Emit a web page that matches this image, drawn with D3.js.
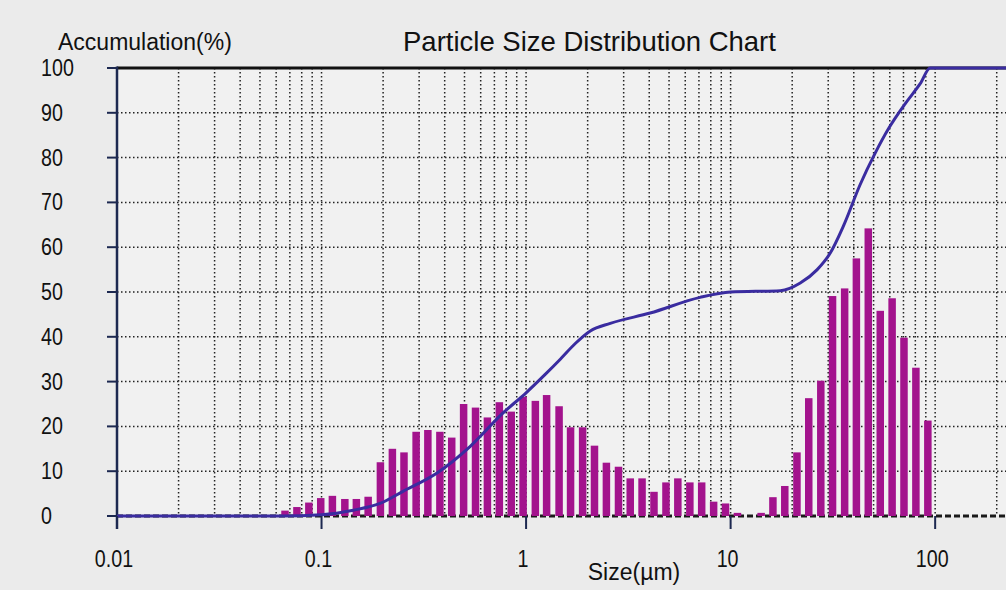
<!DOCTYPE html>
<html>
<head>
<meta charset="utf-8">
<script src="https://cdn.jsdelivr.net/npm/d3@7"></script>
<style>
  body { margin: 0; background: #ebebeb; }
  svg { display: block; }
</style>
</head>
<body>
<div id="chart"></div>
<script>
// bin centres (um) and frequency bars
var sizes = [0.0663, 0.0758, 0.0867, 0.0991, 0.113, 0.130, 0.148, 0.169, 0.194, 0.222,
  0.253, 0.290, 0.331, 0.379, 0.433, 0.495, 0.566, 0.647, 0.740, 0.846,
  0.967, 1.11, 1.26, 1.45, 1.65, 1.89, 2.16, 2.47, 2.83, 3.23,
  3.69, 4.22, 4.83, 5.52, 6.32, 7.22, 8.26, 9.44, 10.8, 12.3,
  14.1, 16.1, 18.4, 21.1, 24.1, 27.6, 31.5, 36.1, 41.2, 47.1,
  53.9, 61.6, 70.4, 80.5, 92.1];
var freq = [1.2, 2, 3, 4, 4.5, 3.8, 3.8, 4.3, 12, 15,
  14.2, 18.8, 19.2, 18.8, 17.5, 25, 24.2, 22, 25.4, 23.3,
  26.6, 25.7, 27, 24.5, 19.8, 19.8, 15.7, 11.9, 11, 8.4,
  8.4, 5.4, 7.5, 8.4, 7.5, 7.5, 3.2, 2.8, 0.7, 0,
  0.7, 4.2, 6.7, 14.2, 26.3, 30.2, 49.1, 50.8, 57.5, 64.2,
  45.8, 48.6, 39.8, 33.1, 21.3];

// accumulation curve
var cumSizes = [0.01, 0.02, 0.063, 0.1, 0.143, 0.193, 0.25, 0.367, 0.532, 0.772,
  1.0, 1.24, 1.47, 1.74, 2.06, 2.58, 4.04, 7.09, 10, 17.5,
  21.9, 26.5, 30.7, 35.5, 43.0, 50.9, 59.6, 71.3, 84.5, 94.6, 222];
var cumValues = [0, 0, 0, 0.3, 1.3, 2.8, 5.5, 9.6, 15.5, 23,
  27.5, 31.6, 35, 38.5, 41.3, 43, 45.3, 48.8, 50, 50.3,
  52, 55, 58.7, 64.6, 74, 81, 86.7, 92, 96.5, 100, 100];

var yTicks = [0, 10, 20, 30, 40, 50, 60, 70, 80, 90, 100];
var xTicks = [0.01, 0.1, 1, 10, 100];
var xTickLabels = ["0.01", "0.1", "1", "10", "100"];

var width = 1006, height = 590;
var plotLeft = 117, plotTop = 68, plotBottom = 516;

var svg = d3.select("#chart").append("svg")
    .attr("width", width)
    .attr("height", height);

var x = d3.scaleLog().domain([0.01, 222]).range([plotLeft, width]);
var y = d3.scaleLinear().domain([0, 100]).range([plotBottom, plotTop]);

var font = "'Liberation Sans', Arial, sans-serif";
var squeeze = 0.82; // tick labels in the original are narrow

// plot background
svg.append("rect")
    .attr("x", plotLeft).attr("y", plotTop)
    .attr("width", width - plotLeft).attr("height", plotBottom - plotTop)
    .attr("fill", "#f1f1f1");

// dotted grid
svg.append("g").selectAll("line")
  .data(x.ticks().filter(function(d) { return d > 0.01; }))
  .enter().append("line")
    .attr("x1", function(d) { return x(d); })
    .attr("x2", function(d) { return x(d); })
    .attr("y1", plotTop)
    .attr("y2", plotBottom)
    .attr("stroke", "#222")
    .attr("stroke-width", 1.5)
    .attr("stroke-dasharray", "1.5,2.5");

svg.append("g").selectAll("line")
  .data(yTicks.filter(function(d) { return d > 0 && d < 100; }))
  .enter().append("line")
    .attr("x1", plotLeft)
    .attr("x2", width)
    .attr("y1", function(d) { return y(d); })
    .attr("y2", function(d) { return y(d); })
    .attr("stroke", "#222")
    .attr("stroke-width", 1.5)
    .attr("stroke-dasharray", "1.5,2.5");

// baseline
svg.append("line")
    .attr("x1", plotLeft).attr("x2", width)
    .attr("y1", y(0)).attr("y2", y(0))
    .attr("stroke", "#1a1a1a")
    .attr("stroke-width", 3)
    .attr("stroke-dasharray", "6,3");

// bars
svg.append("g").selectAll("rect")
  .data(sizes)
  .enter().append("rect")
    .attr("x", function(d) { return x(d) - 3.75; })
    .attr("y", function(d, i) { return y(freq[i]); })
    .attr("width", 7.5)
    .attr("height", function(d, i) { return y(0) - y(freq[i]); })
    .attr("fill", "#a3138d");

// frame: top border and left axis
svg.append("line")
    .attr("x1", plotLeft).attr("x2", width)
    .attr("y1", plotTop).attr("y2", plotTop)
    .attr("stroke", "#111")
    .attr("stroke-width", 3);

svg.append("line")
    .attr("x1", plotLeft).attr("x2", plotLeft)
    .attr("y1", plotTop - 1.5).attr("y2", plotBottom + 13)
    .attr("stroke", "#1c2850")
    .attr("stroke-width", 2.5);

// accumulation line
var line = d3.line()
    .x(function(d) { return x(d); })
    .y(function(d, i) { return y(cumValues[i]); })
    .curve(d3.curveMonotoneX);

svg.append("path")
    .datum(cumSizes)
    .attr("d", line)
    .attr("fill", "none")
    .attr("stroke", "#3a2ca0")
    .attr("stroke-width", 3);

// y ticks and labels
svg.append("g").selectAll("line")
  .data(yTicks)
  .enter().append("line")
    .attr("x1", plotLeft - 10).attr("x2", plotLeft)
    .attr("y1", function(d) { return y(d); })
    .attr("y2", function(d) { return y(d); })
    .attr("stroke", "#1c2850")
    .attr("stroke-width", 2);

svg.append("g").selectAll("text")
  .data(yTicks)
  .enter().append("text")
    .attr("transform", function(d) {
      return "translate(41," + (y(d) + 8) + ") scale(" + squeeze + ",1)";
    })
    .attr("font-family", font)
    .attr("font-size", 24)
    .attr("fill", "#111")
    .text(function(d) { return d; });

// x ticks and labels
svg.append("g").selectAll("line")
  .data(xTicks)
  .enter().append("line")
    .attr("x1", function(d) { return x(d); })
    .attr("x2", function(d) { return x(d); })
    .attr("y1", plotBottom)
    .attr("y2", plotBottom + 13)
    .attr("stroke", "#1c2850")
    .attr("stroke-width", 2);

svg.append("g").selectAll("text")
  .data(xTicks)
  .enter().append("text")
    .attr("transform", function(d) {
      return "translate(" + (x(d) - 3) + ",567) scale(" + squeeze + ",1)";
    })
    .attr("text-anchor", "middle")
    .attr("font-family", font)
    .attr("font-size", 24)
    .attr("fill", "#111")
    .text(function(d, i) { return xTickLabels[i]; });

// titles
svg.append("text")
    .attr("x", 58).attr("y", 50)
    .attr("font-family", font)
    .attr("font-size", 23)
    .attr("fill", "#111")
    .text("Accumulation(%)");

svg.append("text")
    .attr("x", 403).attr("y", 51)
    .attr("font-family", font)
    .attr("font-size", 27.5)
    .attr("fill", "#111")
    .text("Particle Size Distribution Chart");

svg.append("text")
    .attr("x", 634).attr("y", 580)
    .attr("text-anchor", "middle")
    .attr("font-family", font)
    .attr("font-size", 23)
    .attr("fill", "#111")
    .text("Size(\u00b5m)");
</script>
</body>
</html>
